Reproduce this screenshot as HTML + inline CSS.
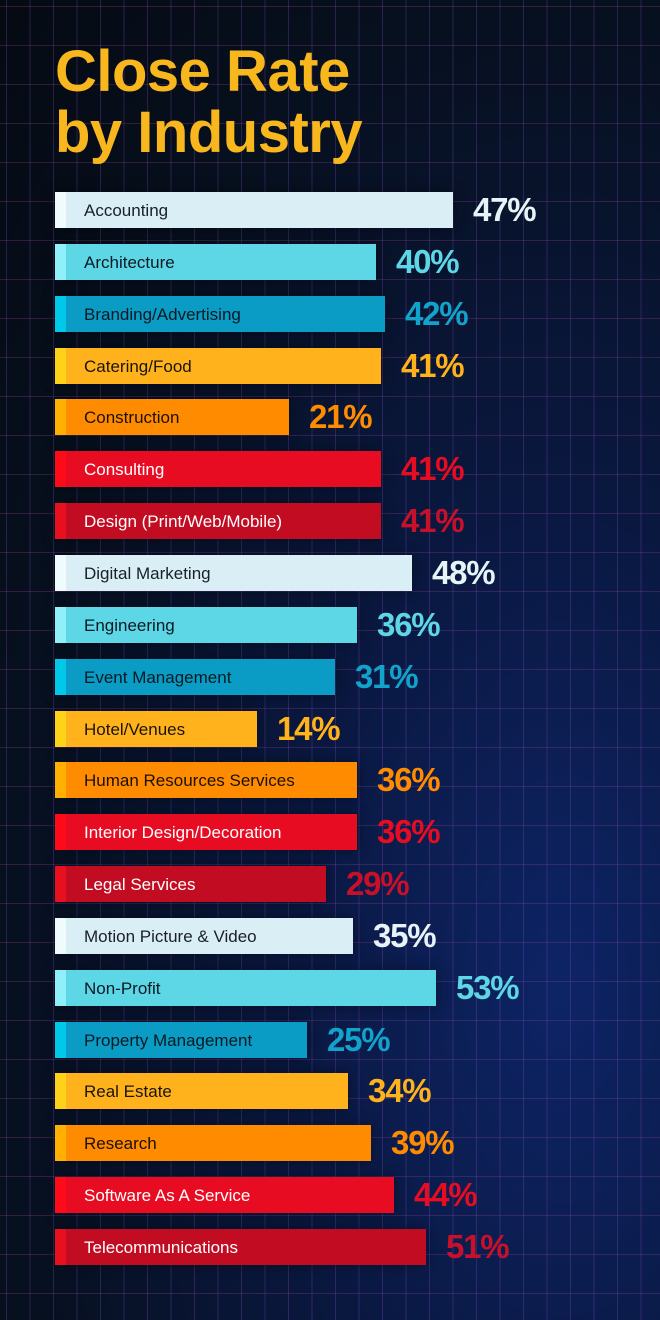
<!DOCTYPE html>
<html><head><meta charset="utf-8"><style>
html,body{margin:0;padding:0}
body{width:660px;height:1320px;overflow:hidden;position:relative;font-family:"Liberation Sans",sans-serif;
background:radial-gradient(ellipse at 85% 75%,#0d2466 0%,#0a1840 35%,#07101f 70%,#050a12 100%);}
.grid{position:absolute;inset:0;
background-image:linear-gradient(to right,rgba(140,80,200,0.28) 1px,transparent 1px),linear-gradient(to bottom,rgba(150,70,160,0.28) 1px,transparent 1px);
background-size:23.5px 39px;background-position:6px 6px;}
.title{position:absolute;left:55px;top:41px;color:#f9b71e;font-weight:bold;font-size:58px;line-height:61px;letter-spacing:-0.5px}
.bar{position:absolute;left:55px;height:36px;box-shadow:0 0 14px rgba(0,0,0,0.4)}
.bar .s{position:absolute;left:0;top:0;width:11px;height:100%}
.bar span{position:absolute;left:29px;top:1px;line-height:36px;font-size:17px;white-space:nowrap}
.v{position:absolute;font-weight:bold;font-size:33px;letter-spacing:-1.2px;line-height:36px}
</style></head><body>
<div class="grid"></div>
<div class="title">Close Rate<br>by Industry</div>
<div id="c"></div>
<script>
var d=[["Accounting",453,"47%",0],["Architecture",376,"40%",1],["Branding/Advertising",385,"42%",2],["Catering/Food",381,"41%",3],["Construction",289,"21%",4],["Consulting",381,"41%",5],["Design (Print/Web/Mobile)",381,"41%",6],["Digital Marketing",412,"48%",0],["Engineering",357,"36%",1],["Event Management",335,"31%",2],["Hotel/Venues",257,"14%",3],["Human Resources Services",357,"36%",4],["Interior Design/Decoration",357,"36%",5],["Legal Services",326,"29%",6],["Motion Picture & Video",353,"35%",0],["Non-Profit",436,"53%",1],["Property Management",307,"25%",2],["Real Estate",348,"34%",3],["Research",371,"39%",4],["Software As A Service",394,"44%",5],["Telecommunications",426,"51%",6]];
var C=[["#d9eff5","#f0fbfe","#1a1f2a","#e6f4f8"],["#5dd6e6","#8ff0fa","#0d1a24","#5dd6e6"],["#0a9cc4","#00c8e8","#0a1a24","#11a3cc"],["#ffb21c","#ffd21a","#1a1408","#ffb21c"],["#ff8c00","#ffb000","#1a1008","#ff8c00"],["#e80c22","#ff0a18","#ffffff","#e80c22"],["#c20c22","#e8101e","#ffffff","#c8102a"]];
var h="";
d.forEach(function(r,i){var t=192+i*51.85,c=C[r[3]];
h+='<div class="bar" style="top:'+t+'px;width:'+(r[1]-55)+'px;background:'+c[0]+'"><div class="s" style="background:'+c[1]+'"></div><span style="color:'+c[2]+'">'+r[0].replace("&","&amp;")+'</span></div>';
h+='<div class="v" style="top:'+t+'px;left:'+(r[1]+20)+'px;color:'+c[3]+'">'+r[2]+'</div>';});
document.getElementById("c").innerHTML=h;
</script>
</body></html>
